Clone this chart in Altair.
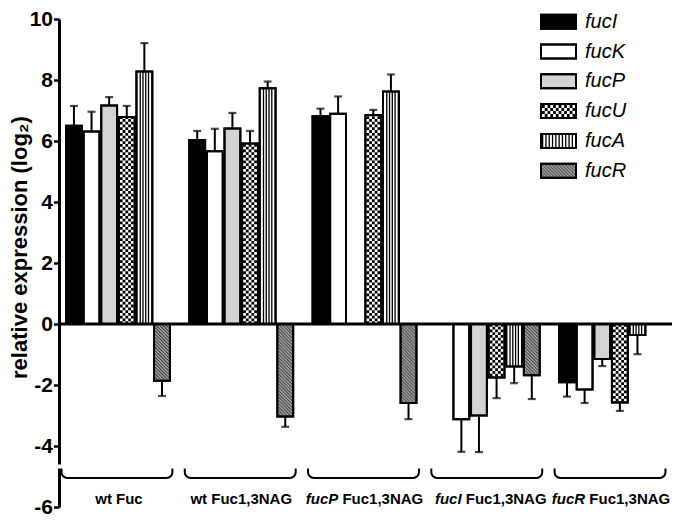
import altair as alt
import pandas as pd

# ---------------- data ----------------
groups = ["wt Fuc", "wt Fuc1,3NAG", "fucP Fuc1,3NAG", "fucI Fuc1,3NAG", "fucR Fuc1,3NAG"]
group_italic = ["", "", "fucP", "fucI", "fucR"]
group_rest = ["wt Fuc", "wt Fuc1,3NAG", "Fuc1,3NAG", "Fuc1,3NAG", "Fuc1,3NAG"]
genes = ["fucI", "fucK", "fucP", "fucU", "fucA", "fucR"]

fucI = [6.50, 6.03, 6.81, None, -1.91]
fucI_err = [0.65, 0.30, 0.25, None, 0.47]
fucK = [6.31, 5.66, 6.89, -3.12, -2.15]
fucK_err = [0.65, 0.74, 0.57, 1.07, 0.44]
fucP = [7.16, 6.41, None, -3.00, -1.15]
fucP_err = [0.28, 0.51, None, 1.20, 0.23]
fucU = [6.79, 5.92, 6.85, -1.75, -2.57]
fucU_err = [0.36, 0.41, 0.17, 0.68, 0.28]
fucA = [8.28, 7.73, 7.62, -1.39, -0.36]
fucA_err = [0.93, 0.22, 0.56, 0.55, 0.63]
fucR = [-1.86, -3.03, -2.59, -1.68, None]
fucR_err = [0.50, 0.34, 0.53, 0.78, None]

y_ticks = [-6, -4, -2, 0, 2, 4, 6, 8, 10]
y_title = "relative expression (log\u2082)"

# ---------------- style / layout ----------------
FONT = "Liberation Sans"
fills = ["#000000", "#ffffff", "#d3d3d3", "#ffffff", "#ffffff", "#a8a8a8"]
W, H = 613, 488
PAD_L, PAD_T, PAD_R, PAD_B = 51, 11, 0, 11
N_SLOTS = len(groups) * 7 - 1
PI, PO, ALIGN = 0.1, 0.455, 0.4375
STEP = W / (N_SLOTS - PI + 2 * PO)
BW = STEP * (1 - PI)
INNER = BW - 2.0

slot_domain = []
for gi, g in enumerate(groups):
    for gene in genes:
        slot_domain.append(f"{g}|{gene}")
    if gi < len(groups) - 1:
        slot_domain.append(f"{g}|gap")

series = {
    "fucI": (fucI, fucI_err), "fucK": (fucK, fucK_err), "fucP": (fucP, fucP_err),
    "fucU": (fucU, fucU_err), "fucA": (fucA, fucA_err), "fucR": (fucR, fucR_err),
}
rows = []
for gene in genes:
    vals, errs = series[gene]
    for gi, g in enumerate(groups):
        v, e = vals[gi], errs[gi]
        if v is None:
            continue
        rows.append(dict(group=g, gene=gene, slot=f"{g}|{gene}", value=v, zero=0.0,
                         end=(v + e) if v > 0 else (v - e)))
df = pd.DataFrame(rows)

xs = alt.Scale(type="band", domain=slot_domain, paddingInner=PI, paddingOuter=PO, align=ALIGN)
ys = alt.Scale(domain=[-6, 10], nice=False, zero=False)
fill_scale = alt.Scale(domain=genes, range=fills)


def X(field="slot", bp=None):
    kw = {} if bp is None else {"bandPosition": bp}
    return alt.X(f"{field}:N", scale=xs, axis=None, **kw)


def Y(field):
    return alt.Y(f"{field}:Q", scale=ys, axis=None)


base = alt.Chart(df)
layers = []

# bars (fill + outline)
layers.append(base.mark_bar(stroke="black", strokeWidth=2).encode(
    x=X(),
    y=alt.Y("value:Q", scale=ys, axis=alt.Axis(
        values=y_ticks, title=y_title, grid=False,
        labelExpr="'' + datum.value",
        labelFont=FONT, labelFontSize=21, labelFontWeight="bold", labelColor="black",
        labelPadding=1, tickSize=5.5, tickWidth=2.5, tickColor="black",
        domainColor="black", domainWidth=3,
        titleFont=FONT, titleFontSize=22, titleFontWeight="bold", titleColor="black",
        titleX=-40, titleY=228, titleBaseline="middle")),
    y2=alt.Y2("zero:Q"),
    fill=alt.Fill("gene:N", scale=fill_scale, legend=None),
))

# fucU checkerboard
cw = INNER / 5
for j in range(5):
    bp = (1 + (j + 0.5) * cw) / BW
    layers.append(base.transform_filter(alt.datum.gene == "fucU").mark_rule(
        color="black", strokeWidth=cw, strokeDash=[cw, cw], strokeDashOffset=(j % 2) * cw,
        strokeCap="butt").encode(x=X(bp=bp), y=Y("zero"), y2=alt.Y2("value:Q")))

# fucA vertical stripes
for k in range(1, 5):
    bp = (1 + k * INNER / 5) / BW
    layers.append(base.transform_filter(alt.datum.gene == "fucA").mark_rule(
        color="black", strokeWidth=1.3, strokeCap="butt").encode(
        x=X(bp=bp), y=Y("zero"), y2=alt.Y2("value:Q")))

# fucR diagonal hatch
HP = 3.3
NH = 14
hw = INNER / NH
for i in range(NH):
    bp = (1 + (i + 0.5) * hw) / BW
    layers.append(base.transform_filter(alt.datum.gene == "fucR").mark_rule(
        color="#3c3c3c", strokeWidth=hw + 0.05, strokeDash=[1.4, HP - 1.4],
        strokeDashOffset=(-i * hw) % HP, strokeCap="butt").encode(
        x=X(bp=bp), y=Y("zero"), y2=alt.Y2("value:Q")))

# outlines again on top
layers.append(base.mark_bar(fillOpacity=0, stroke="black", strokeWidth=2).encode(
    x=X(), y=Y("value"), y2=alt.Y2("zero:Q")))

# zero line
layers.append(alt.Chart(pd.DataFrame({"zero": [0.0]})).mark_rule(
    color="black", strokeWidth=3).encode(y=Y("zero")))

# error bars
layers.append(base.mark_rule(color="black", strokeWidth=2).encode(
    x=X(), y=Y("value"), y2=alt.Y2("end:Q")))
layers.append(base.mark_tick(color="black", thickness=2.2, size=8).encode(
    x=X(), y=Y("end")))

# braces
BR_TOP, BR_BOT = 447.5, 459
brace_df = pd.DataFrame({
    "first": [f"{g}|fucI" for g in groups],
    "last": [f"{g}|fucR" for g in groups],
})
layers.append(alt.Chart(brace_df).mark_rect(
    fillOpacity=0, stroke="black", strokeWidth=2,
    cornerRadiusBottomLeft=8, cornerRadiusBottomRight=8,
    xOffset=-4.5, x2Offset=2.5).encode(
    x=X("first", bp=0), x2=alt.X2("last:N", bandPosition=1),
    y=alt.value(BR_TOP), y2=alt.value(BR_BOT)))
layers.append(alt.Chart(brace_df).mark_rule(
    stroke="white", strokeWidth=4, xOffset=-8, x2Offset=6).encode(
    x=X("first", bp=0), x2=alt.X2("last:N", bandPosition=1),
    y=alt.value(BR_TOP)))

# group labels (bold; gene part italic)
CW = {'w': 778, 't': 333, ' ': 278, 'F': 611, 'u': 611, 'c': 556, '1': 556, ',': 278,
      '3': 556, 'N': 722, 'A': 722, 'G': 778, 'f': 333, 'P': 667, 'I': 278, 'R': 722}


def tw(s, size=15):
    return sum(CW.get(ch, 556) for ch in s) * size / 1000.0


label_shift = [1, 0, 0, 3, 0]
LY = 480
for gi, g in enumerate(groups):
    mid = pd.DataFrame({"mid": [f"{g}|fucU"], "it": [group_italic[gi]], "rest": [group_rest[gi]]})
    c_off = -STEP * PI / 2 + label_shift[gi]
    if group_italic[gi]:
        total = tw(group_italic[gi]) + tw(" ") + tw(group_rest[gi])
        split = tw(group_italic[gi]) - total / 2
        layers.append(alt.Chart(mid).mark_text(
            font=FONT, fontSize=15, fontWeight="bold", fontStyle="italic", color="black",
            align="right", baseline="middle", xOffset=c_off + split).encode(
            x=X("mid", bp=0), y=alt.value(LY), text="it:N"))
        layers.append(alt.Chart(mid).mark_text(
            font=FONT, fontSize=15, fontWeight="bold", color="black",
            align="left", baseline="middle", xOffset=c_off + split + tw(" ")).encode(
            x=X("mid", bp=0), y=alt.value(LY), text="rest:N"))
    else:
        layers.append(alt.Chart(mid).mark_text(
            font=FONT, fontSize=15, fontWeight="bold", color="black",
            align="center", baseline="middle", xOffset=c_off).encode(
            x=X("mid", bp=0), y=alt.value(LY), text="rest:N"))

# custom legend
leg = alt.Chart(pd.DataFrame({"gene": genes}))
ly = alt.Scale(type="band", domain=genes, range=[-4.3, 158.7], paddingInner=0.53, paddingOuter=0)
LY_ENC = alt.Y("gene:N", scale=ly, axis=None)
LX0, LX1 = 482, 517
layers.append(leg.mark_rect(stroke="black", strokeWidth=2).encode(
    x=alt.value(LX0), x2=alt.value(LX1), y=LY_ENC,
    fill=alt.Fill("gene:N", scale=fill_scale, legend=None)))
for r in range(4):
    layers.append(leg.transform_filter(alt.datum.gene == "fucU").mark_rule(
        color="black", strokeWidth=3, strokeDash=[cw, cw], strokeDashOffset=(r % 2) * cw,
        strokeCap="butt", yOffset=-4.5 + 3 * r).encode(
        x=alt.value(LX0 + 1), x2=alt.value(LX1 - 1), y=LY_ENC))
layers.append(leg.transform_filter(alt.datum.gene == "fucA").mark_rule(
    color="black", strokeWidth=12, strokeDash=[1.3, 2.0], strokeCap="butt").encode(
    x=alt.value(LX0 + 1), x2=alt.value(LX1 - 1), y=LY_ENC))
for r in range(12):
    layers.append(leg.transform_filter(alt.datum.gene == "fucR").mark_rule(
        color="#3c3c3c", strokeWidth=1.05, strokeDash=[1.4, HP - 1.4],
        strokeDashOffset=(-r * 1.0) % HP, strokeCap="butt", yOffset=-5.5 + r).encode(
        x=alt.value(LX0 + 1), x2=alt.value(LX1 - 1), y=LY_ENC))
layers.append(leg.mark_rect(fillOpacity=0, stroke="black", strokeWidth=2).encode(
    x=alt.value(LX0), x2=alt.value(LX1), y=LY_ENC))
layers.append(leg.mark_text(font=FONT, fontSize=20, fontStyle="italic", color="black",
                            align="left", baseline="middle").encode(
    x=alt.value(526), y=LY_ENC, text="gene:N"))

chart = alt.layer(*layers).resolve_scale(y="independent").properties(
    width=W, height=H,
    autosize=alt.AutoSizeParams(type="none"),
    padding={"left": PAD_L, "top": PAD_T, "right": PAD_R, "bottom": PAD_B},
).configure_view(stroke=None)

chart.save("out.html", embed_options={"renderer": "svg", "actions": False})
